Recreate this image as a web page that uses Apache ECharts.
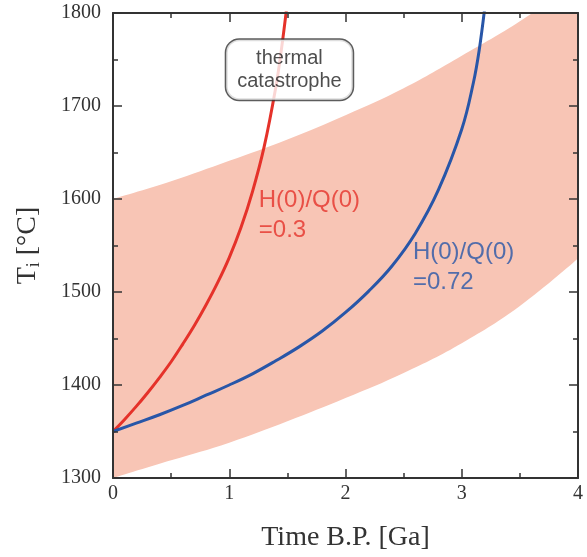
<!DOCTYPE html>
<html>
<head>
<meta charset="utf-8">
<script src="https://cdn.jsdelivr.net/npm/echarts@6/dist/echarts.min.js"></script>
<style>
  html, body { margin: 0; padding: 0; background: #fff; }
  #chart { width: 587px; height: 557px; }
</style>
</head>
<body>
<div id="chart"></div>
<script>
// Time before present [Ga]
const bandTime = [0, 0.5, 1.0, 1.5, 2.0, 2.5, 3.0, 3.5, 4.0];
// Envelope of plausible mantle temperatures [°C]
const bandLow  = [1300, 1319, 1338, 1361, 1386, 1413, 1445, 1485, 1536];
const bandHigh = [1600, 1619, 1641, 1664, 1690, 1719, 1754, 1791, 1835];

// Thermal history, H(0)/Q(0) = 0.3
const redTime = [0, 0.1, 0.2, 0.3, 0.4, 0.5, 0.6, 0.7, 0.8, 0.9, 1.0, 1.1, 1.2, 1.3, 1.4, 1.45, 1.5];
const redTemp = [1350, 1363, 1377, 1392, 1408, 1425, 1444, 1464, 1486, 1510, 1537, 1569, 1608, 1656, 1720, 1762, 1812];

// Thermal history, H(0)/Q(0) = 0.72
const blueTime = [0, 0.2, 0.4, 0.6, 0.8, 1.0, 1.2, 1.4, 1.6, 1.8, 2.0, 2.2, 2.4, 2.6, 2.8, 3.0, 3.1, 3.15, 3.2];
const blueTemp = [1350, 1359, 1368, 1378, 1389, 1400, 1412, 1426, 1441, 1458, 1478, 1501, 1528, 1563, 1610, 1675, 1725, 1760, 1808];

// Annotations: [time, temperature, text]
const redNote  = [1.254, 1582, 'H(0)/Q(0)\n=0.3'];
const blueNote = [2.58, 1527, 'H(0)/Q(0)\n=0.72'];
const boxNote  = [1.518, 1739, 'thermal\ncatastrophe'];

const xTicks = { min: 0, max: 4, interval: 1 };
const yTicks = { min: 1300, max: 1800, interval: 100 };

const RED = '#e5322a';
const BLUE = '#2856a8';
const BAND = '#f8c5b5';
const FRAME = '#333333';
const serif = '"Liberation Serif", "Times New Roman", serif';
const sans = '"Liberation Sans", Arial, Helvetica, sans-serif';

const pairs = (xs, ys) => xs.map((x, i) => [x, ys[i]]);

function frameAxis(extra) {
  return Object.assign({
    type: 'value',
    z: 10,
    axisLine: { show: true, onZero: false, lineStyle: { color: FRAME, width: 2 } },
    axisTick: { show: true, inside: true, length: 9, lineStyle: { color: FRAME, width: 1.5 } },
    minorTick: { show: true, splitNumber: 2, length: 5, lineStyle: { color: FRAME, width: 1.5 } },
    splitLine: { show: false },
    minorSplitLine: { show: false }
  }, extra);
}

const chart = echarts.init(document.getElementById('chart'), null, { renderer: 'canvas' });

chart.setOption({
  animation: false,
  backgroundColor: '#ffffff',
  grid: { left: 113, right: 9, top: 13, bottom: 77, containLabel: false },
  xAxis: [
    frameAxis(Object.assign({}, xTicks, {
      position: 'bottom',
      name: 'Time B.P. [Ga]',
      nameLocation: 'middle',
      nameGap: 46,
      nameTextStyle: { fontFamily: serif, fontSize: 28, color: '#333' },
      axisLabel: { fontFamily: serif, fontSize: 20, color: '#333', margin: 6, formatter: v => String(v) }
    })),
    frameAxis(Object.assign({}, xTicks, {
      position: 'top',
      axisLabel: { show: false }
    }))
  ],
  yAxis: [
    frameAxis(Object.assign({}, yTicks, {
      position: 'left',
      name: '{t|T}{s|i}{t| [°C]}',
      nameLocation: 'middle',
      nameGap: 70,
      nameTextStyle: {
        fontFamily: serif, fontSize: 28, color: '#333',
        rich: {
          t: { fontFamily: serif, fontSize: 28, color: '#333' },
          s: { fontFamily: serif, fontSize: 18, color: '#333', padding: [12, 0, 0, 0] }
        }
      },
      axisLabel: { fontFamily: serif, fontSize: 20, color: '#333', margin: 12, formatter: v => String(v) }
    })),
    frameAxis(Object.assign({}, yTicks, {
      position: 'right',
      axisLabel: { show: false }
    }))
  ],
  series: [
    {
      // upper edge of the envelope, filled down to the axis
      type: 'line',
      name: 'band',
      data: pairs(bandTime, bandHigh),
      smooth: 0.4,
      symbol: 'none',
      lineStyle: { width: 0, opacity: 0 },
      areaStyle: { color: BAND, opacity: 1, origin: 'start' },
      silent: true,
      z: 1
    },
    {
      // lower edge of the envelope, everything beneath it stays blank
      type: 'line',
      name: 'band-low',
      data: pairs(bandTime, bandLow),
      smooth: 0.4,
      symbol: 'none',
      lineStyle: { width: 0, opacity: 0 },
      areaStyle: { color: '#ffffff', opacity: 1, origin: 'start' },
      silent: true,
      z: 1
    },
    {
      type: 'line',
      name: 'H(0)/Q(0)=0.3',
      data: pairs(redTime, redTemp),
      smooth: 0.4,
      symbol: 'none',
      lineStyle: { color: RED, width: 3 },
      z: 3
    },
    {
      type: 'line',
      name: 'H(0)/Q(0)=0.72',
      data: pairs(blueTime, blueTemp),
      smooth: 0.4,
      symbol: 'none',
      lineStyle: { color: BLUE, width: 3 },
      z: 3
    },
    {
      type: 'scatter',
      symbolSize: 0,
      data: [redNote.slice(0, 2)],
      label: {
        show: true, position: 'right', distance: 0,
        formatter: redNote[2],
        fontFamily: sans, fontSize: 24, lineHeight: 30, color: RED, align: 'left'
      },
      z: 4
    },
    {
      type: 'scatter',
      symbolSize: 0,
      data: [blueNote.slice(0, 2)],
      label: {
        show: true, position: 'right', distance: 0,
        formatter: blueNote[2],
        fontFamily: sans, fontSize: 24, lineHeight: 30, color: BLUE, align: 'left'
      },
      z: 4
    },
    {
      type: 'scatter',
      symbolSize: 0,
      data: [boxNote.slice(0, 2)],
      label: {
        show: true, position: 'inside',
        formatter: boxNote[2],
        fontFamily: sans, fontSize: 20, lineHeight: 23, color: '#222', align: 'center',
        backgroundColor: '#ffffff', borderColor: '#333', borderWidth: 1.5, borderRadius: 13,
        padding: [7, 11, 7, 11]
      },
      z: 5
    }
  ]
});
</script>
</body>
</html>
